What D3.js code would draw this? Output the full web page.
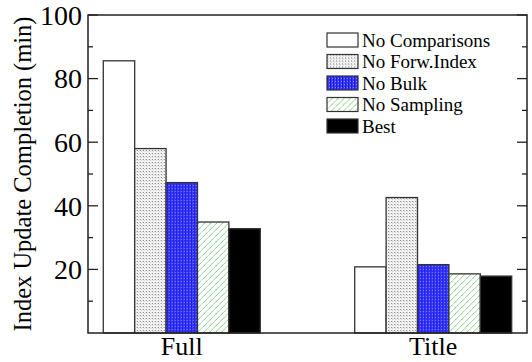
<!DOCTYPE html>
<html><head><meta charset="utf-8">
<script src="https://cdn.jsdelivr.net/npm/d3@7"></script>
<style>body{margin:0;background:#fff}svg{display:block}</style>
</head><body>
<svg id="c" width="532" height="362"></svg>
<script>
const categories = ["Full", "Title"];
const seriesNames = ["No Comparisons", "No Forw.Index", "No Bulk", "No Sampling", "Best"];
const noComparisons = [85.6, 20.8];
const noForwIndex = [58.0, 42.6];
const noBulk = [47.3, 21.5];
const noSampling = [34.9, 18.6];
const best = [32.8, 17.9];
const yTicks = [20, 40, 60, 80, 100];
const yMinorTicks = [10, 30, 50, 70, 90];
const yTitle = "Index Update Completion (min)";

const series = [noComparisons, noForwIndex, noBulk, noSampling, best];
const svg = d3.select("#c");
const W = 532, H = 362;
const m = {l: 88, r: 5, t: 15, b: 29};
const x0 = m.l, x1 = W - m.r, y0 = H - m.b, y1 = m.t;
const font = "'Liberation Serif','Times New Roman',serif";

const defs = svg.append("defs");
const pd = defs.append("pattern").attr("id","pDot").attr("patternUnits","userSpaceOnUse").attr("width",3).attr("height",3);
pd.append("rect").attr("width",3).attr("height",3).attr("fill","#f4f4f4");
pd.append("rect").attr("x",0).attr("y",0).attr("width",1).attr("height",1).attr("fill","#777");
pd.append("rect").attr("x",1).attr("y",1).attr("width",1).attr("height",1).attr("fill","#ccc");
const pb = defs.append("pattern").attr("id","pBlue").attr("patternUnits","userSpaceOnUse").attr("width",3).attr("height",3);
pb.append("rect").attr("width",3).attr("height",3).attr("fill","#3a3aff");
pb.append("rect").attr("x",0).attr("y",0).attr("width",1).attr("height",3).attr("fill","#1a1ae0");
pb.append("rect").attr("x",2).attr("y",2).attr("width",1).attr("height",1).attr("fill","#8a8aff");
const pg = defs.append("pattern").attr("id","pGreen").attr("patternUnits","userSpaceOnUse").attr("width",6).attr("height",6);
pg.append("rect").attr("width",6).attr("height",6).attr("fill","#fff");
pg.append("path").attr("d","M-1,7 L7,-1 M-4,4 L4,-4 M2,10 L10,2").attr("stroke","#3bb03b").attr("stroke-width",0.9).attr("stroke-dasharray","1.2,0.6");

const fills = ["#fff", "url(#pDot)", "url(#pBlue)", "url(#pGreen)", "#000"];

const y = d3.scaleLinear().domain([0, 100]).range([y0, y1]);
const xg = d3.scalePoint().domain(categories).range([x0, x1]).padding(0.373);
const groupW = 157;
const xs = d3.scaleBand().domain(d3.range(series.length)).range([-groupW/2, groupW/2]).padding(0);

categories.forEach((c, ci) => {
  const g = svg.append("g").attr("transform", `translate(${xg(c)},0)`);
  series.forEach((s, si) => {
    g.append("rect")
      .attr("x", xs(si)).attr("width", xs.bandwidth())
      .attr("y", y(s[ci])).attr("height", y0 - y(s[ci]))
      .attr("fill", fills[si]).attr("stroke", "#333").attr("stroke-width", 1.3);
  });
});

svg.append("rect").attr("x", x0).attr("y", y1).attr("width", x1 - x0).attr("height", y0 - y1)
  .attr("fill","none").attr("stroke","#222").attr("stroke-width",1.5);

const ax = svg.append("g");
yTicks.forEach(t => {
  ax.append("line").attr("x1", x0).attr("x2", x0 + 10).attr("y1", y(t)).attr("y2", y(t)).attr("stroke","#222").attr("stroke-width",1.3);
  ax.append("line").attr("x1", x1).attr("x2", x1 - 10).attr("y1", y(t)).attr("y2", y(t)).attr("stroke","#222").attr("stroke-width",1.3);
  ax.append("text").attr("x", x0 - 6).attr("y", y(t)).attr("dy","0.35em").attr("text-anchor","end")
    .attr("font-family", font).attr("font-size", 28).text(t);
});
yMinorTicks.forEach(t => {
  ax.append("line").attr("x1", x0).attr("x2", x0 + 5).attr("y1", y(t)).attr("y2", y(t)).attr("stroke","#222").attr("stroke-width",1.3);
  ax.append("line").attr("x1", x1).attr("x2", x1 - 5).attr("y1", y(t)).attr("y2", y(t)).attr("stroke","#222").attr("stroke-width",1.3);
});
categories.forEach(c => {
  svg.append("text").attr("x", xg(c)).attr("y", 355).attr("text-anchor","middle")
    .attr("font-family", font).attr("font-size", 26).text(c);
});
svg.append("text").attr("transform", `translate(31,${(y0 + y1)/2}) rotate(-90)`)
  .attr("text-anchor","middle").attr("font-family", font).attr("font-size", 24.5).text(yTitle);

const lg = svg.append("g").attr("transform", "translate(327,33)");
seriesNames.forEach((n, i) => {
  const row = lg.append("g").attr("transform", `translate(0,${i * 21.5})`);
  row.append("rect").attr("x", 0).attr("y", 0).attr("width", 31).attr("height", 14)
    .attr("fill", fills[i]).attr("stroke","#333").attr("stroke-width",1.2);
  row.append("text").attr("x", 35).attr("y", 7).attr("dy","0.35em")
    .attr("font-family", font).attr("font-size", 19).text(n);
});
</script>
</body></html>
